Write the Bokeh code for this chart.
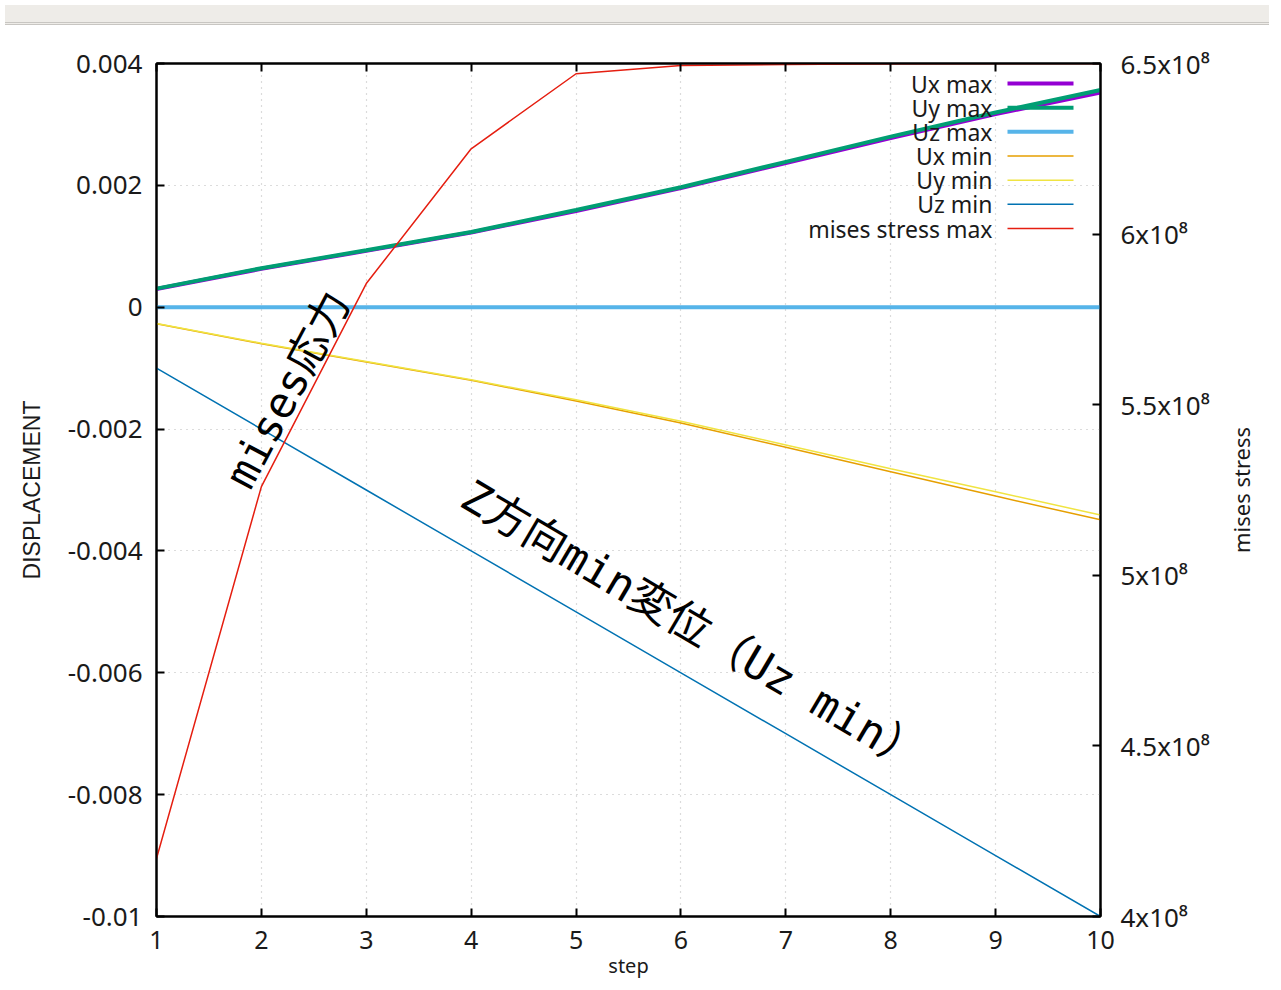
import math
from bokeh.plotting import figure
from bokeh.models import (Range1d, LinearAxis, FixedTicker, Label, Arrow, Div, CustomLabelingPolicy)
from bokeh.layouts import column, row
from bokeh.embed import file_html
from bokeh.resources import INLINE

# ---------------- data ----------------
steps = [1, 2, 3, 4, 5, 6, 7, 8, 9, 10]
ux_max = [0.000300, 0.000630, 0.000925, 0.001225, 0.001580, 0.001955, 0.002365, 0.002775, 0.003170, 0.003525]
uy_max = [0.000305, 0.000640, 0.000935, 0.001235, 0.001595, 0.001970, 0.002385, 0.002800, 0.003195, 0.003565]
uz_max = [0.0, 0.0, 0.0, 0.0, 0.0, 0.0, 0.0, 0.0, 0.0, 0.0]
ux_min = [-0.000270, -0.000600, -0.000900, -0.001200, -0.001540, -0.001900, -0.002300, -0.002700, -0.003100, -0.003490]
uy_min = [-0.000268, -0.000590, -0.000890, -0.001190, -0.001520, -0.001870, -0.002260, -0.002650, -0.003030, -0.003410]
uz_min = [-0.001, -0.002, -0.003, -0.004, -0.005, -0.006, -0.007, -0.008, -0.009, -0.010]
mises_max = [4.17e8, 5.26e8, 5.855e8, 6.25e8, 6.47e8, 6.494e8, 6.497e8, 6.499e8, 6.5e8, 6.5e8]

x_ticks = [1, 2, 3, 4, 5, 6, 7, 8, 9, 10]
y_ticks = [-0.01, -0.008, -0.006, -0.004, -0.002, 0.0, 0.002, 0.004]
y_tick_labels = ["-0.01", "-0.008", "-0.006", "-0.004", "-0.002", "0", "0.002", "0.004"]
s_ticks = [4.0e8, 4.5e8, 5.0e8, 5.5e8, 6.0e8, 6.5e8]
s_tick_labels = ["4x10\u2078", "4.5x10\u2078", "5x10\u2078", "5.5x10\u2078", "6x10\u2078", "6.5x10\u2078"]

series_names = ["Ux max", "Uy max", "Uz max", "Ux min", "Uy min", "Uz min", "mises stress max"]
series_colors = ["#9400d3", "#009e73", "#56b4e9", "#e69f00", "#f0e442", "#0072b2", "#e51e10"]
series_widths = [4, 4, 4, 1.5, 1.5, 1.5, 1.5]

ann1_text = "mises応力"
ann1_pos = (2.25, -0.00135)
ann2_text = "Z方向min変位（Uz min）"
ann2_pos = (6.12, -0.00523)

FONT = "Noto Sans"
MONO = "'DejaVu Sans Mono', 'Noto Sans CJK JP'"

FIG_H = 952
FRAME_H = 853

# ---------------- main figure ----------------
p = figure(width=1226, height=FIG_H, output_backend="svg", toolbar_location=None,
           x_range=Range1d(1, 10), y_range=Range1d(-0.01, 0.004),
           min_border_left=156, min_border_right=126, min_border_top=33, min_border_bottom=66)
p.extra_y_ranges = {"stress": Range1d(4.0e8, 6.5e8)}
p.background_fill_color = "white"
p.border_fill_color = "white"
p.outline_line_color = "black"
p.outline_line_width = 2

def style_axis(ax, size="26px"):
    ax.axis_line_color = "black"
    ax.axis_line_width = 2
    ax.major_tick_in = 8
    ax.major_tick_out = 0
    ax.major_tick_line_width = 2
    ax.major_tick_line_color = "black"
    ax.minor_tick_line_color = None
    ax.major_label_text_font = FONT
    ax.major_label_text_font_size = size
    ax.major_label_text_color = "#1a1a1a"
    ax.axis_label_text_font = FONT
    ax.axis_label_text_font_style = "normal"
    ax.axis_label_text_font_size = "20px"
    ax.axis_label_text_color = "#1a1a1a"

xa = p.xaxis[0]
style_axis(xa, "25px")
xa.ticker = FixedTicker(ticks=x_ticks)
xa.axis_label = "step"
xa.major_label_standoff = 14
xa.axis_label_standoff = 0

ya = p.yaxis[0]
style_axis(ya)
ya.ticker = FixedTicker(ticks=y_ticks)
ya.major_label_overrides = {t: l for t, l in zip(y_ticks, y_tick_labels)}
ya.axis_label = "DISPLACEMENT"
ya.major_label_standoff = 14
ya.axis_label_standoff = 20
ya.axis_label_text_font = "Liberation Sans"
ya.axis_label_text_font_size = "23px"

top = LinearAxis(ticker=FixedTicker(ticks=x_ticks))
style_axis(top)
top.major_label_policy = CustomLabelingPolicy(code="for (const i of indices) indices.unset(i); return indices")
p.add_layout(top, "above")

ra = LinearAxis(y_range_name="stress", ticker=FixedTicker(ticks=s_ticks))
style_axis(ra)
ra.major_label_overrides = {t: l for t, l in zip(s_ticks, s_tick_labels)}
ra.major_label_standoff = 20
p.add_layout(ra, "right")

# grid
for g in (p.xgrid[0], p.ygrid[0]):
    g.grid_line_color = "#b8b8b8"
    g.grid_line_dash = "1 5"
    g.grid_line_width = 1.2
p.xgrid[0].ticker = FixedTicker(ticks=x_ticks)
p.ygrid[0].ticker = FixedTicker(ticks=y_ticks)

# lines
ys = [ux_max, uy_max, uz_max, ux_min, uy_min, uz_min]
for yv, c, w in zip(ys, series_colors[:6], series_widths[:6]):
    p.line(steps, yv, line_color=c, line_width=w)
p.line(steps, mises_max, line_color=series_colors[6], line_width=series_widths[6], y_range_name="stress")

# legend (gnuplot style: text right-aligned, sample on the right)
leg_text_right = 836
leg_top = 833
leg_step = 24.17
for i, (n, c, w) in enumerate(zip(series_names, series_colors, series_widths)):
    yy = leg_top - i * leg_step
    p.add_layout(Label(x=leg_text_right, y=yy, x_units="screen", y_units="screen", text=n,
                       text_align="right", text_baseline="middle", text_font=FONT,
                       text_font_size="23px", text_color="#1a1a1a"))
    p.add_layout(Arrow(x_start=851, y_start=yy, x_end=917, y_end=yy,
                       start_units="screen", end_units="screen", end=None, start=None,
                       line_color=c, line_width=w))

# annotations
p.add_layout(Label(x=ann1_pos[0], y=ann1_pos[1], text=ann1_text, angle=math.radians(62),
                   text_align="center", text_baseline="middle", text_font=MONO,
                   text_font_size="43px", text_color="black"))
p.add_layout(Label(x=ann2_pos[0], y=ann2_pos[1], text=ann2_text, angle=math.radians(-30.5),
                   text_align="center", text_baseline="middle", text_font=MONO,
                   text_font_size="44px", text_color="black"))

# ---------------- right-hand title strip (y2 label reading bottom-to-top) ----------------
p2 = figure(width=38, height=FIG_H, output_backend="svg", toolbar_location=None,
            x_range=Range1d(0, 1), y_range=Range1d(0, 1),
            min_border_left=0, min_border_right=0, min_border_top=0, min_border_bottom=0)
p2.axis.visible = False
p2.grid.visible = False
p2.outline_line_color = None
p2.background_fill_color = "white"
p2.border_fill_color = "white"
p2.add_layout(Label(x=14, y=FRAME_H / 2, x_units="screen", y_units="screen",
                    text="mises stress", angle=math.pi / 2,
                    text_align="center", text_baseline="middle", text_font=FONT,
                    text_font_size="22px", text_color="#1a1a1a"))

bar = Div(text="", width=1264, height=20,
          styles={"background-color": "#eeece8", "border-bottom": "3px double #c8c6c2"})

layout = column(bar, row(p, p2, spacing=0), spacing=0)
open("out.html", "w").write(file_html(layout, INLINE))
